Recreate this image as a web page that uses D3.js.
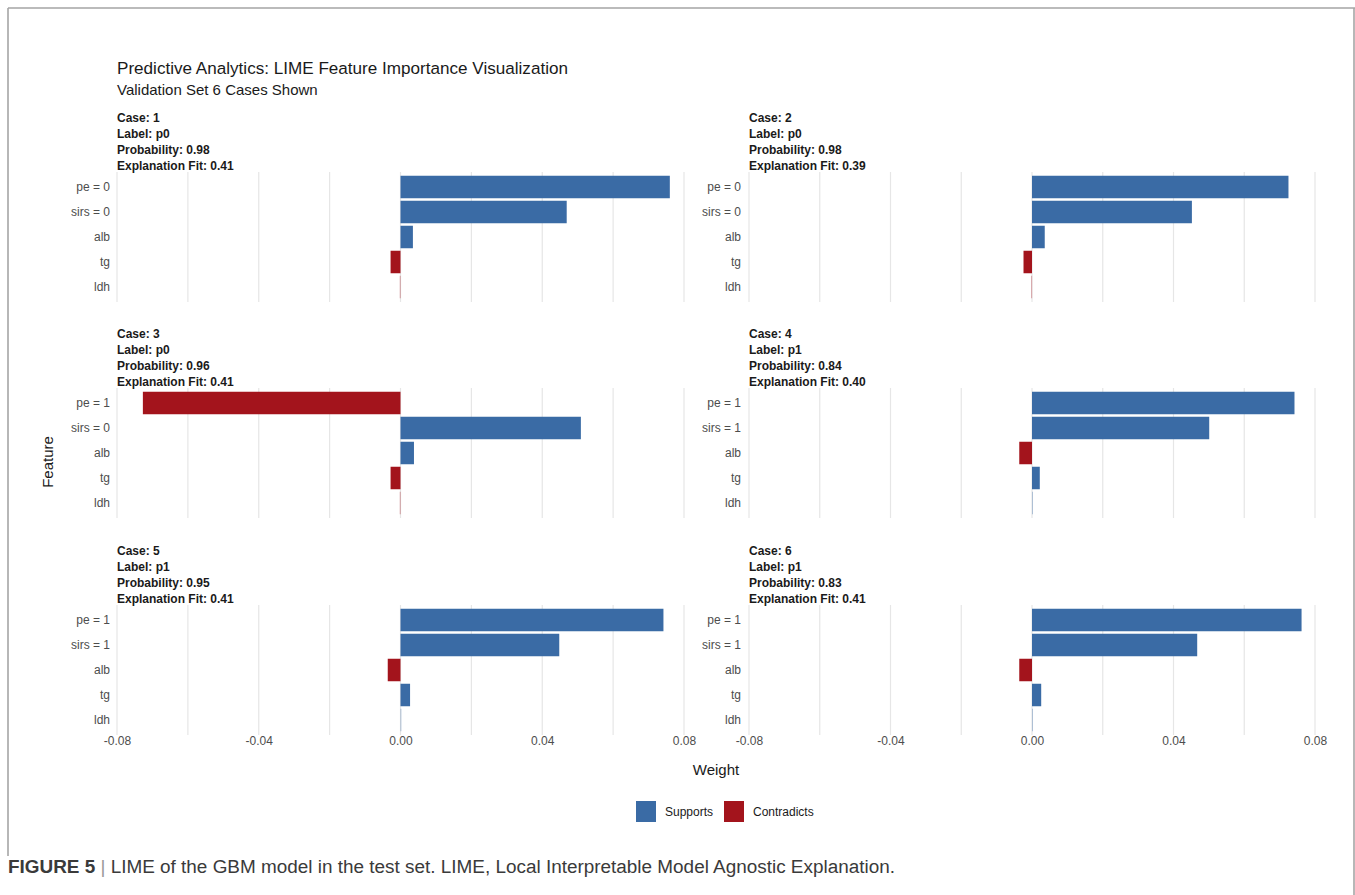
<!DOCTYPE html>
<html>
<head>
<meta charset="utf-8">
<script src="https://cdn.jsdelivr.net/npm/d3@7/dist/d3.min.js"></script>
<style>
  html, body { margin: 0; padding: 0; background: #fff; }
  svg { display: block; }
  text { font-family: "Liberation Sans", Arial, Helvetica, sans-serif; }
</style>
</head>
<body>
<svg id="chart" width="1355" height="895"></svg>
<script>
// ---- Data -------------------------------------------------------------
const cases = [1, 2, 3, 4, 5, 6];
const labels = ["p0", "p0", "p0", "p1", "p1", "p1"];
const probabilities = ["0.98", "0.98", "0.96", "0.84", "0.95", "0.83"];
const explanationFits = ["0.41", "0.39", "0.41", "0.40", "0.41", "0.41"];

// feature labels per case (top to bottom)
const featureLabels = [
  ["pe = 0", "sirs = 0", "alb", "tg", "ldh"],
  ["pe = 0", "sirs = 0", "alb", "tg", "ldh"],
  ["pe = 1", "sirs = 0", "alb", "tg", "ldh"],
  ["pe = 1", "sirs = 1", "alb", "tg", "ldh"],
  ["pe = 1", "sirs = 1", "alb", "tg", "ldh"],
  ["pe = 1", "sirs = 1", "alb", "tg", "ldh"]
];

// feature weights per case, same order as featureLabels
const featureWeights = [
  [0.0760, 0.0469, 0.0035, -0.0028, -0.0002],
  [0.0725, 0.0452, 0.0036, -0.0024, -0.0002],
  [-0.0727, 0.0509, 0.0038, -0.0028, -0.0002],
  [0.0742, 0.0501, -0.0036, 0.0022, 0.0002],
  [0.0742, 0.0448, -0.0036, 0.0027, 0.0002],
  [0.0762, 0.0467, -0.0036, 0.0026, 0.0002]
];

const xTicks = [-0.08, -0.04, 0.00, 0.04, 0.08];
const gridTicks = [-0.08, -0.06, -0.04, -0.02, 0.00, 0.02, 0.04, 0.06, 0.08];
const legendKeys = ["Supports", "Contradicts"];
const legendColors = ["#3a6ba5", "#a3141c"];

// ---- Layout -----------------------------------------------------------
const svg = d3.select("#chart");
const colX = [[117, 684], [749, 1315]];   // pixel range for -0.08 .. 0.08
const rowTop = [172, 388, 605];
const panelH = 130;
const tickLabelX = [110, 741];

const color = d3.scaleOrdinal().domain(legendKeys).range(legendColors);
// plain hyphen for negative numbers
const fmt = d => d3.format(".2f")(d).replace("\u2212", "-");

// outer frame lines
const frame = svg.append("g").attr("stroke", "#a5a5a5").attr("stroke-width", 1.6).attr("fill", "none");
frame.append("line").attr("x1", 8).attr("x2", 1355).attr("y1", 8).attr("y2", 8);
frame.append("line").attr("x1", 8).attr("x2", 8).attr("y1", 8).attr("y2", 856);
frame.append("line").attr("x1", 1354).attr("x2", 1354).attr("y1", 8).attr("y2", 895);

// title and subtitle
svg.append("text").attr("x", 117).attr("y", 74)
  .attr("font-size", 17.1).attr("fill", "#1a1a1a")
  .text("Predictive Analytics: LIME Feature Importance Visualization");
svg.append("text").attr("x", 117).attr("y", 95)
  .attr("font-size", 15).attr("fill", "#1a1a1a")
  .text("Validation Set 6 Cases Shown");

cases.forEach((c, i) => {
  const col = i % 2, row = Math.floor(i / 2);
  const top = rowTop[row];
  const x = d3.scaleLinear().domain([-0.08, 0.08]).range(colX[col]);
  const y = d3.scaleBand().domain(featureLabels[i])
    .range([top, top + panelH]).paddingInner(0.1).paddingOuter(0.15);

  const g = svg.append("g");

  // vertical grid lines
  g.selectAll("line.grid").data(gridTicks).join("line")
    .attr("class", "grid")
    .attr("x1", d => x(d)).attr("x2", d => x(d))
    .attr("y1", top).attr("y2", top + panelH)
    .attr("stroke", "#e6e6e6").attr("stroke-width", 1.2);

  // strip header
  const header = [
    "Case: " + c,
    "Label: " + labels[i],
    "Probability: " + probabilities[i],
    "Explanation Fit: " + explanationFits[i]
  ];
  g.selectAll("text.hdr").data(header).join("text")
    .attr("class", "hdr")
    .attr("x", colX[col][0]).attr("y", (d, k) => top - 54 + k * 16)
    .attr("dy", "0.35em")
    .attr("font-size", 12).attr("font-weight", "bold").attr("fill", "#1a1a1a")
    .text(d => d);

  // bars
  const rows = featureLabels[i].map((f, k) => ({ f, w: featureWeights[i][k] }));
  g.selectAll("rect.bar").data(rows).join("rect")
    .attr("class", "bar")
    .attr("x", d => x(Math.min(0, d.w)))
    .attr("width", d => Math.max(0.8, Math.abs(x(d.w) - x(0))))
    .attr("y", d => y(d.f))
    .attr("height", y.bandwidth())
    .attr("fill", d => color(d.w >= 0 ? "Supports" : "Contradicts"))
    .attr("fill-opacity", d => Math.abs(d.w) < 0.0005 ? 0.45 : 1);

  // y axis labels
  const yAxis = d3.axisLeft(y).tickSize(0).tickPadding(0);
  const ya = g.append("g").attr("transform", `translate(${tickLabelX[col]},0)`).call(yAxis);
  ya.select(".domain").remove();
  ya.selectAll("text").attr("font-size", 12).attr("fill", "#4d4d4d")
    .attr("font-family", "Liberation Sans, Arial, sans-serif");

  // x axis labels on the bottom row
  if (row === 2) {
    const xAxis = d3.axisBottom(x).tickValues(xTicks).tickFormat(fmt).tickSize(0).tickPadding(0);
    const xa = g.append("g").attr("transform", `translate(0,${top + panelH + 1})`).call(xAxis);
    xa.select(".domain").remove();
    xa.selectAll("text").attr("font-size", 12).attr("fill", "#4d4d4d")
      .attr("font-family", "Liberation Sans, Arial, sans-serif");
  }
});

// axis titles
svg.append("text").attr("x", 716).attr("y", 775).attr("text-anchor", "middle")
  .attr("font-size", 15).attr("fill", "#1a1a1a").text("Weight");
svg.append("text").attr("transform", "translate(53,462) rotate(-90)")
  .attr("text-anchor", "middle").attr("font-size", 15).attr("fill", "#1a1a1a").text("Feature");

// legend
const legend = svg.append("g");
const legendX = [636, 724];
legendKeys.forEach((k, j) => {
  legend.append("rect").attr("x", legendX[j]).attr("y", 801).attr("width", 20).attr("height", 21)
    .attr("fill", color(k));
  legend.append("text").attr("x", legendX[j] + 29).attr("y", 812).attr("dy", "0.35em")
    .attr("font-size", 12).attr("fill", "#1a1a1a").text(k);
});

// figure caption
const cap = svg.append("text").attr("x", 8).attr("y", 873)
  .attr("font-family", "'Liberation Sans Narrow', 'Arial Narrow', Arial, sans-serif")
  .attr("font-size", 18).attr("fill", "#3a3a3a")
  .attr("textLength", 887).attr("lengthAdjust", "spacingAndGlyphs");
cap.append("tspan").attr("font-weight", "bold").text("FIGURE 5");
cap.append("tspan").attr("fill", "#999").text(" | ");
cap.append("tspan").text("LIME of the GBM model in the test set. LIME, Local Interpretable Model Agnostic Explanation.");
</script>
</body>
</html>
